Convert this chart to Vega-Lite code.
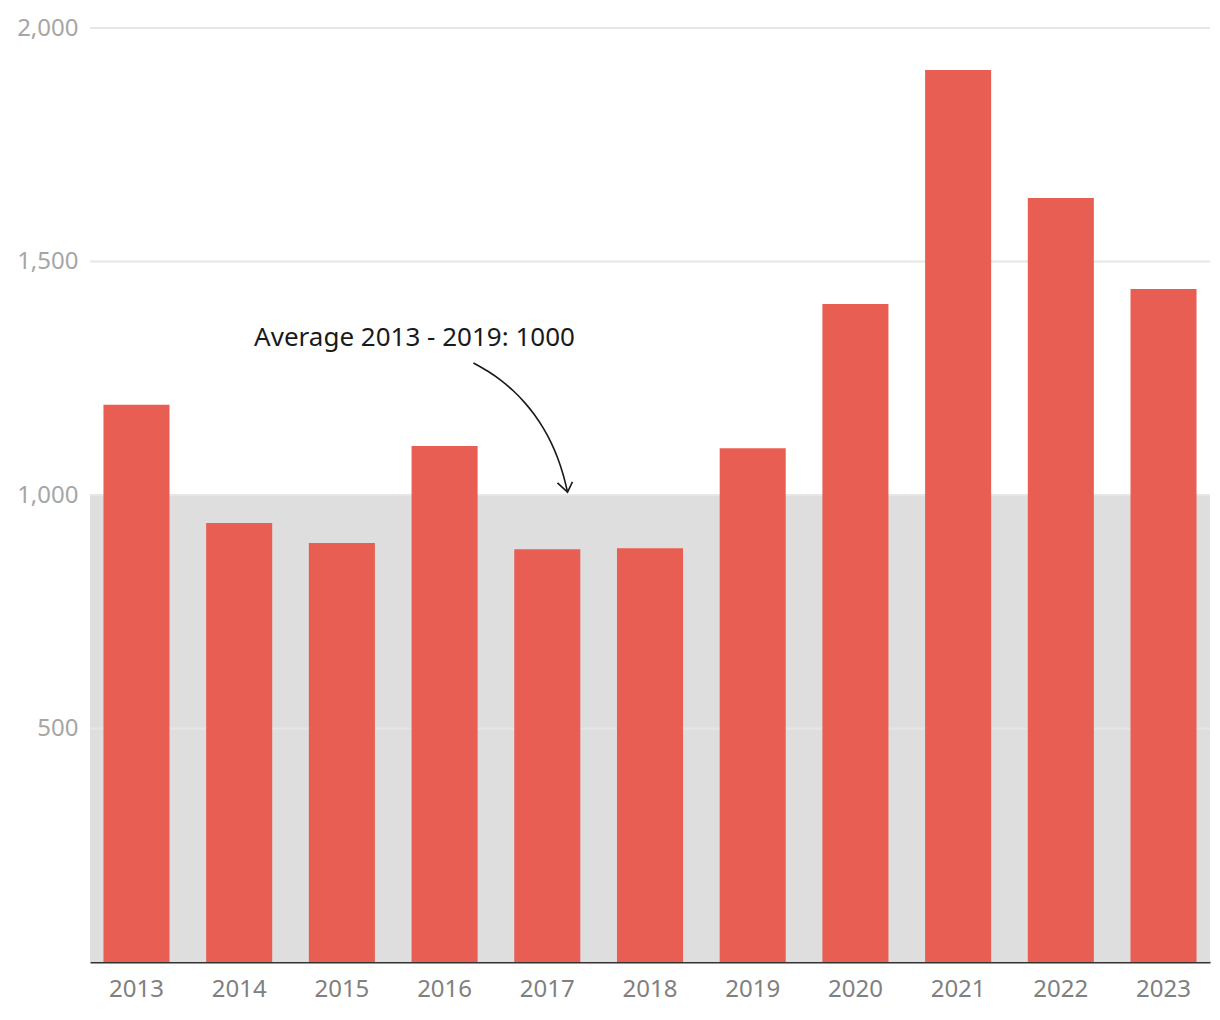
{
  "$schema": "https://vega.github.io/schema/vega-lite/v6.json",
  "width": 1120,
  "height": 934,
  "autosize": {"type": "none"},
  "padding": {"left": 90, "top": 28, "right": 10, "bottom": 58},
  "background": "white",
  "config": {"view": {"stroke": null}, "font": "Noto Sans"},
  "datasets": {
    "bars": [
      {"year": "2013", "value": 1193},
      {"year": "2014", "value": 940},
      {"year": "2015", "value": 897},
      {"year": "2016", "value": 1105},
      {"year": "2017", "value": 884},
      {"year": "2018", "value": 886},
      {"year": "2019", "value": 1100},
      {"year": "2020", "value": 1409},
      {"year": "2021", "value": 1910},
      {"year": "2022", "value": 1636},
      {"year": "2023", "value": 1441}
    ],
    "grid": [{"v": 500}, {"v": 1000}, {"v": 1500}, {"v": 2000}],
    "curve": [
      {"t": 0, "x": 2016.281, "y": 1282.7},
      {"t": 1, "x": 2016.422, "y": 1264.9},
      {"t": 2, "x": 2016.552, "y": 1244.9},
      {"t": 3, "x": 2016.671, "y": 1222.7},
      {"t": 4, "x": 2016.778, "y": 1198.4},
      {"t": 5, "x": 2016.875, "y": 1171.8},
      {"t": 6, "x": 2016.961, "y": 1143.1},
      {"t": 7, "x": 2017.037, "y": 1112.2},
      {"t": 8, "x": 2017.101, "y": 1079.1},
      {"t": 9, "x": 2017.154, "y": 1043.9},
      {"t": 10, "x": 2017.197, "y": 1006.4}
    ],
    "head": [
      {"t": 0, "x": 2017.099, "y": 1026},
      {"t": 1, "x": 2017.197, "y": 1006},
      {"t": 2, "x": 2017.245, "y": 1028}
    ],
    "note": [{"x": 2015.707, "y": 1336, "label": "Average 2013 - 2019: 1000"}]
  },
  "layer": [
    {
      "data": {"values": [{"lo": 0, "hi": 1000}]},
      "mark": {"type": "rect", "color": "#dedede"},
      "encoding": {
        "y": {"field": "lo", "type": "quantitative", "scale": {"domain": [0, 2000], "nice": false}, "axis": {"values": [500, 1000, 1500, 2000], "title": null, "domain": false, "ticks": false, "grid": false, "labelColor": "#a6a6a6", "labelFontSize": 24, "labelPadding": 12, "format": ",d"}},
        "y2": {"field": "hi"}
      }
    },
    {
      "data": {"name": "grid"},
      "mark": {"type": "rule", "color": "#e6e6e6", "strokeWidth": 2},
      "encoding": {"y": {"field": "v", "type": "quantitative"}}
    },
    {
      "data": {"name": "bars"},
      "mark": {"type": "bar", "color": "#e85e52"},
      "encoding": {
        "x": {"field": "year", "type": "ordinal", "scale": {"paddingInner": 0.357, "paddingOuter": 0.131}, "axis": {"title": null, "labelAngle": 0, "ticks": false, "domainColor": "#333333", "domainWidth": 2, "labelColor": "#808080", "labelFontSize": 24, "labelPadding": 15}},
        "y": {"field": "value", "type": "quantitative"}
      }
    },
    {
      "layer": [
        {
          "data": {"name": "curve"},
          "mark": {"type": "line", "color": "#1a1a1a", "strokeWidth": 1.6, "interpolate": "catmull-rom"},
          "encoding": {
            "x": {"field": "x", "type": "quantitative", "scale": {"domain": [2012.5475, 2023.4525], "nice": false, "zero": false}, "axis": null},
            "y": {"field": "y", "type": "quantitative"},
            "order": {"field": "t", "type": "quantitative"}
          }
        },
        {
          "data": {"name": "head"},
          "mark": {"type": "line", "color": "#1a1a1a", "strokeWidth": 1.6},
          "encoding": {
            "x": {"field": "x", "type": "quantitative", "axis": null},
            "y": {"field": "y", "type": "quantitative"},
            "order": {"field": "t", "type": "quantitative"}
          }
        },
        {
          "data": {"name": "note"},
          "mark": {"type": "text", "color": "#1a1a1a", "fontSize": 26, "align": "center", "baseline": "middle"},
          "encoding": {
            "x": {"field": "x", "type": "quantitative", "axis": null},
            "y": {"field": "y", "type": "quantitative"},
            "text": {"field": "label"}
          }
        }
      ]
    }
  ],
  "resolve": {"scale": {"x": "independent"}}
}
